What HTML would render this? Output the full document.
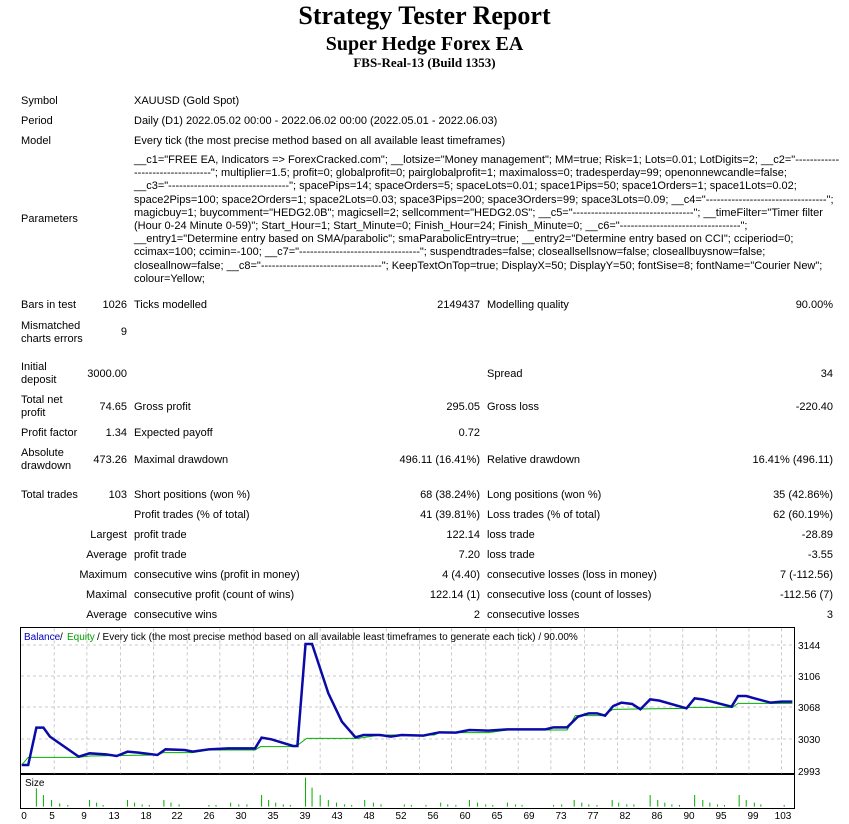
<!DOCTYPE html>
<html><head><meta charset="utf-8"><style>
body{margin:0;background:#fff;width:849px;height:824px;position:relative;overflow:hidden;font-family:"Liberation Sans",sans-serif;font-size:11px;color:#000}
.t{position:absolute;white-space:nowrap;line-height:13px}
.r{text-align:right}
.h{position:absolute;left:0;width:849px;text-align:center;font-family:"Liberation Serif",serif;font-weight:bold}
.p{position:absolute;left:134px;top:154px;line-height:13.2px;white-space:nowrap;transform-origin:0 0;transform:scaleX(1.0)}
</style></head><body>
<div class="h" style="top:1px;font-size:26px">Strategy Tester Report</div>
<div class="h" style="top:33px;font-size:20px">Super Hedge Forex EA</div>
<div class="h" style="top:55px;font-size:13px">FBS-Real-13 (Build 1353)</div>

<div class="t" style="left:21px;top:95px">Symbol</div><div class="t" style="left:134px;top:95px">XAUUSD (Gold Spot)</div>
<div class="t" style="left:21px;top:115px">Period</div><div class="t" style="left:134px;top:115px">Daily (D1) 2022.05.02 00:00 - 2022.06.02 00:00 (2022.05.01 - 2022.06.03)</div>
<div class="t" style="left:21px;top:135px">Model</div><div class="t" style="left:134px;top:135px">Every tick (the most precise method based on all available least timeframes)</div>
<div class="t" style="left:21px;top:213px">Parameters</div>
<div class="p">__c1="FREE EA, Indicators =&gt; ForexCracked.com"; __lotsize="Money management"; MM=true; Risk=1; Lots=0.01; LotDigits=2; __c2="------------<br>---------------------"; multiplier=1.5; profit=0; globalprofit=0; pairglobalprofit=1; maximaloss=0; tradesperday=99; openonnewcandle=false;<br>__c3="---------------------------------"; spacePips=14; spaceOrders=5; spaceLots=0.01; space1Pips=50; space1Orders=1; space1Lots=0.02;<br>space2Pips=100; space2Orders=1; space2Lots=0.03; space3Pips=200; space3Orders=99; space3Lots=0.09; __c4="---------------------------------";<br>magicbuy=1; buycomment="HEDG2.0B"; magicsell=2; sellcomment="HEDG2.0S"; __c5="---------------------------------"; __timeFilter="Timer filter<br>(Hour 0-24 Minute 0-59)"; Start_Hour=1; Start_Minute=0; Finish_Hour=24; Finish_Minute=0; __c6="---------------------------------";<br>__entry1="Determine entry based on SMA/parabolic"; smaParabolicEntry=true; __entry2="Determine entry based on CCI"; cciperiod=0;<br>ccimax=100; ccimin=-100; __c7="---------------------------------"; suspendtrades=false; closeallsellsnow=false; closeallbuysnow=false;<br>closeallnow=false; __c8="---------------------------------"; KeepTextOnTop=true; DisplayX=50; DisplayY=50; fontSise=8; fontName="Courier New";<br>colour=Yellow;</div>

<div class="t" style="left:21px;top:299px">Bars in test</div><div class="t r" style="right:722px;top:299px">1026</div><div class="t" style="left:134px;top:299px">Ticks modelled</div><div class="t r" style="right:369px;top:299px">2149437</div><div class="t" style="left:487px;top:299px">Modelling quality</div><div class="t r" style="right:16px;top:299px">90.00%</div>
<div class="t" style="left:21px;top:320px">Mismatched<br>charts errors</div><div class="t r" style="right:722px;top:326px">9</div>
<div class="t" style="left:21px;top:361px">Initial<br>deposit</div><div class="t r" style="right:722px;top:368px">3000.00</div><div class="t" style="left:487px;top:368px">Spread</div><div class="t r" style="right:16px;top:368px">34</div>
<div class="t" style="left:21px;top:394px">Total net<br>profit</div><div class="t r" style="right:722px;top:401px">74.65</div><div class="t" style="left:134px;top:401px">Gross profit</div><div class="t r" style="right:369px;top:401px">295.05</div><div class="t" style="left:487px;top:401px">Gross loss</div><div class="t r" style="right:16px;top:401px">-220.40</div>
<div class="t" style="left:21px;top:427px">Profit factor</div><div class="t r" style="right:722px;top:427px">1.34</div><div class="t" style="left:134px;top:427px">Expected payoff</div><div class="t r" style="right:369px;top:427px">0.72</div>
<div class="t" style="left:21px;top:447px">Absolute<br>drawdown</div><div class="t r" style="right:722px;top:454px">473.26</div><div class="t" style="left:134px;top:454px">Maximal drawdown</div><div class="t r" style="right:369px;top:454px">496.11 (16.41%)</div><div class="t" style="left:487px;top:454px">Relative drawdown</div><div class="t r" style="right:16px;top:454px">16.41% (496.11)</div>
<div class="t" style="left:21px;top:489px">Total trades</div><div class="t r" style="right:722px;top:489px">103</div><div class="t" style="left:134px;top:489px">Short positions (won %)</div><div class="t r" style="right:369px;top:489px">68 (38.24%)</div><div class="t" style="left:487px;top:489px">Long positions (won %)</div><div class="t r" style="right:16px;top:489px">35 (42.86%)</div>
<div class="t" style="left:134px;top:509px">Profit trades (% of total)</div><div class="t r" style="right:369px;top:509px">41 (39.81%)</div><div class="t" style="left:487px;top:509px">Loss trades (% of total)</div><div class="t r" style="right:16px;top:509px">62 (60.19%)</div>
<div class="t r" style="right:722px;top:529px">Largest</div><div class="t" style="left:134px;top:529px">profit trade</div><div class="t r" style="right:369px;top:529px">122.14</div><div class="t" style="left:487px;top:529px">loss trade</div><div class="t r" style="right:16px;top:529px">-28.89</div>
<div class="t r" style="right:722px;top:549px">Average</div><div class="t" style="left:134px;top:549px">profit trade</div><div class="t r" style="right:369px;top:549px">7.20</div><div class="t" style="left:487px;top:549px">loss trade</div><div class="t r" style="right:16px;top:549px">-3.55</div>
<div class="t r" style="right:722px;top:569px">Maximum</div><div class="t" style="left:134px;top:569px">consecutive wins (profit in money)</div><div class="t r" style="right:369px;top:569px">4 (4.40)</div><div class="t" style="left:487px;top:569px">consecutive losses (loss in money)</div><div class="t r" style="right:16px;top:569px">7 (-112.56)</div>
<div class="t r" style="right:722px;top:589px">Maximal</div><div class="t" style="left:134px;top:589px">consecutive profit (count of wins)</div><div class="t r" style="right:369px;top:589px">122.14 (1)</div><div class="t" style="left:487px;top:589px">consecutive loss (count of losses)</div><div class="t r" style="right:16px;top:589px">-112.56 (7)</div>
<div class="t r" style="right:722px;top:609px">Average</div><div class="t" style="left:134px;top:609px">consecutive wins</div><div class="t r" style="right:369px;top:609px">2</div><div class="t" style="left:487px;top:609px">consecutive losses</div><div class="t r" style="right:16px;top:609px">3</div>

<svg style="position:absolute;left:0;top:0" width="849" height="824">
<g font-family="Liberation Sans, sans-serif" font-size="10">
<rect x="20.5" y="627.5" width="774" height="146" fill="#fff" stroke="#000"/>
<rect x="20.5" y="774.5" width="774" height="34" fill="#fff" stroke="#000"/>
<g stroke="#c8c8c8" stroke-dasharray="3,3">
<line x1="21" x2="794" y1="645" y2="645"/><line x1="21" x2="794" y1="676" y2="676"/><line x1="21" x2="794" y1="707" y2="707"/><line x1="21" x2="794" y1="739" y2="739"/>
</g>
<g transform="translate(0,620) scale(0.5427,0.3333)">
<path vector-effect="non-scaling-stroke" stroke="#c8c8c8" stroke-dasharray="3,3" d="M100 25V460M160 25V460M222 25V460M283 25V460M345 25V460M405 25V460M467 25V460M530 25V460M590 25V460M650 25V460M712 25V460M773 25V460M832 25V460M895 25V460M955 25V460M1015 25V460M1077 25V460M1138 25V460M1198 25V460M1258 25V460M1320 25V460M1380 25V460M1440 25V460"/>
<path vector-effect="non-scaling-stroke" fill="none" stroke="#00b000" stroke-width="1" d="M40 435L52 412L145 412L165 408L290 405L300 398L355 398L385 390L470 390L480 380L545 380L565 355L660 355L700 345L800 345L810 338L900 338L935 330L1045 330L1060 287L1110 287L1130 268L1265 265L1270 262L1350 262L1360 250L1460 250"/>
<path vector-effect="non-scaling-stroke" fill="none" stroke="#0a0aa8" stroke-width="2.5" d="M40 435L52 435L67 323L80 323L92 350L145 410L165 400L195 403L215 408L235 395L255 398L290 405L305 388L340 390L355 395L385 388L420 385L470 385L482 353L500 358L540 378L548 378L563 72L575 72L605 220L630 305L655 352L670 345L700 345L720 350L740 345L780 347L810 337L840 338L865 330L900 332L935 328L1005 328L1020 322L1045 322L1065 290L1085 280L1100 280L1115 287L1130 258L1145 248L1165 252L1180 268L1198 238L1215 242L1265 265L1280 235L1295 238L1348 260L1360 228L1375 228L1390 235L1420 248L1440 245L1460 245"/>
<path vector-effect="non-scaling-stroke" stroke="#00b000" stroke-width="1" d="M67 560V505M80 560V525M95 560V540M110 560V550M125 560V555M165 560V540M178 560V548M190 560V555M235 560V540M248 560V548M262 560V553M275 560V555M302 560V540M315 560V548M330 560V553M385 560V555M398 560V555M425 560V548M440 560V553M455 560V553M482 560V525M495 560V540M508 560V548M522 560V553M535 560V555M563 560V473M575 560V503M590 560V525M605 560V540M620 560V548M635 560V553M648 560V555M672 560V540M688 560V548M702 560V553M745 560V553M758 560V555M785 560V555M812 560V548M825 560V553M840 560V555M865 560V540M880 560V548M895 560V553M908 560V555M935 560V548M950 560V553M962 560V555M1020 560V555M1035 560V553M1058 560V540M1072 560V548M1085 560V553M1100 560V555M1128 560V540M1140 560V548M1155 560V553M1168 560V553M1198 560V525M1212 560V540M1225 560V548M1238 560V553M1252 560V555M1280 560V525M1295 560V540M1308 560V548M1322 560V553M1335 560V555M1362 560V525M1375 560V540M1390 560V548M1402 560V553M1445 560V555"/>
</g>
<text x="24" y="640" fill="#0000c0">Balance</text><text x="60" y="640"> /</text><text x="67" y="640" fill="#00a000">Equity</text><text x="97" y="640">/ Every tick (the most precise method based on all available least timeframes to generate each tick) / 90.00%</text>
<text x="25" y="786">Size</text>
<text x="798" y="649">3144</text><text x="798" y="680">3106</text><text x="798" y="711">3068</text><text x="798" y="743">3030</text><text x="798" y="775">2993</text>
<g text-anchor="middle">
<text x="24" y="819">0</text><text x="52" y="819">5</text><text x="84" y="819">9</text><text x="114" y="819">13</text><text x="146" y="819">18</text><text x="177" y="819">22</text><text x="209" y="819">26</text><text x="241" y="819">30</text><text x="273" y="819">35</text><text x="305" y="819">39</text><text x="337" y="819">43</text><text x="369" y="819">48</text><text x="401" y="819">52</text><text x="433" y="819">56</text><text x="465" y="819">60</text><text x="497" y="819">65</text><text x="529" y="819">69</text><text x="561" y="819">73</text><text x="593" y="819">77</text><text x="625" y="819">82</text><text x="657" y="819">86</text><text x="689" y="819">90</text><text x="721" y="819">95</text><text x="753" y="819">99</text><text x="783" y="819">103</text>
</g>
</g>
</svg>
</body></html>
